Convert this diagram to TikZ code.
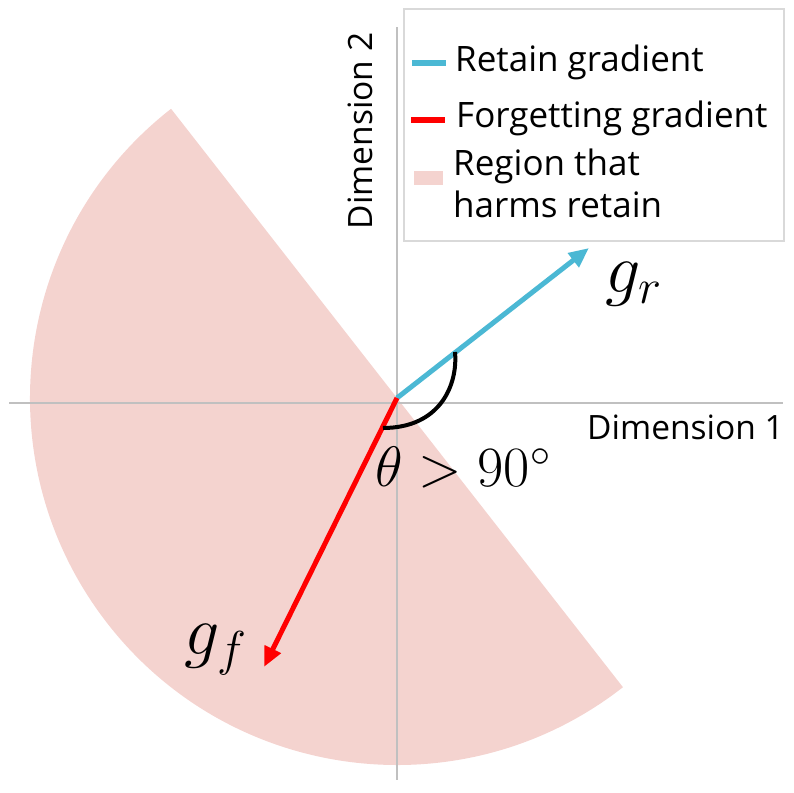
\RequirePackage{fix-cm}
\documentclass[tikz,border=0pt]{standalone}
\usepackage{fontspec}
\setmainfont{Open Sans}
\usetikzlibrary{arrows.meta}
\definecolor{rblue}{RGB}{75,184,212}
\definecolor{fred}{RGB}{255,0,0}
\definecolor{harm}{RGB}{244,211,207}
\definecolor{axgrey}{RGB}{192,192,192}
\definecolor{boxgrey}{RGB}{217,217,217}
\tikzset{
  axisline/.style={draw=axgrey, line width=2pt},
  gradr/.style={draw=rblue, line width=5pt, -{Triangle[length=20pt,width=17pt]}},
  gradf/.style={draw=fred, line width=5pt, -{Triangle[length=20pt,width=17pt]}},
  lbl/.style={inner sep=0pt, font=\fontsize{35}{40}\selectfont},
  dimlbl/.style={inner sep=0pt, font=\fontsize{33.5}{40}\selectfont},
  mathlbl/.style={inner sep=0pt, font=\fontsize{70}{80}\selectfont},
  anglelbl/.style={inner sep=0pt, font=\fontsize{57}{64}\selectfont},
}
\begin{document}
\begin{tikzpicture}[x=1pt,y=1pt]
\useasboundingbox (0,0) rectangle (793,793);
% harm region (half disk)
\coordinate (O) at (397,395);
\fill[harm] (O) -- ++(128:367) arc[start angle=128, end angle=308, radius=367] -- cycle;
% axes
\coordinate (xl) at (9,390);
\coordinate (xr) at (783,390);
\coordinate (yb) at (397,13);
\coordinate (yt) at (397,766);
\draw[axisline] (xl) -- (xr);
\draw[axisline] (yb) -- (yt);
% gradients
\coordinate (R) at (589,545);
\coordinate (F) at (264,126);
\draw[gradr] (O) -- (R);
\draw[gradf] (O) -- (F);
% angle arc
\coordinate (a1) at (455,441);
\coordinate (a2) at (383,365);
\draw[line width=4pt] (a1) .. controls (458,408) and (440,365) .. (a2);
% labels
\node[dimlbl, anchor=base west] (d1) at (587,353) {Dimension 1};
\node[dimlbl, anchor=base, rotate=90] (d2) at (372,662) {Dimension 2};
\node[mathlbl, anchor=base west] (gr) at (605,500) {$g_r$};
\node[mathlbl, anchor=base west] (gf) at (184,138) {$g_f$};
\node[anglelbl, anchor=base west] (th) at (375,306) {$\theta > 90^\circ$};
% legend
\node[draw=boxgrey, line width=2pt, fill=white, minimum width=380pt, minimum height=232pt, inner sep=0pt, anchor=north west] (leg) at (403,785) {};
\coordinate (lb1) at (412,730);
\coordinate (lb2) at (446,730);
\draw[draw=rblue, line width=6pt] (lb1) -- (lb2);
\coordinate (lr1) at (411,673);
\coordinate (lr2) at (445,673);
\draw[draw=fred, line width=6pt] (lr1) -- (lr2);
\node[fill=harm, minimum width=29pt, minimum height=14pt, inner sep=0pt] (lp) at (428.5,615) {};
\node[lbl, anchor=base west] (t1) at (455,721) {Retain gradient};
\node[lbl, anchor=base west] (t2) at (456,665) {Forgetting gradient};
\node[lbl, anchor=base west] (t3) at (453,617) {Region that};
\node[lbl, anchor=base west] (t4) at (453,575) {harms retain};
\end{tikzpicture}
\end{document}
